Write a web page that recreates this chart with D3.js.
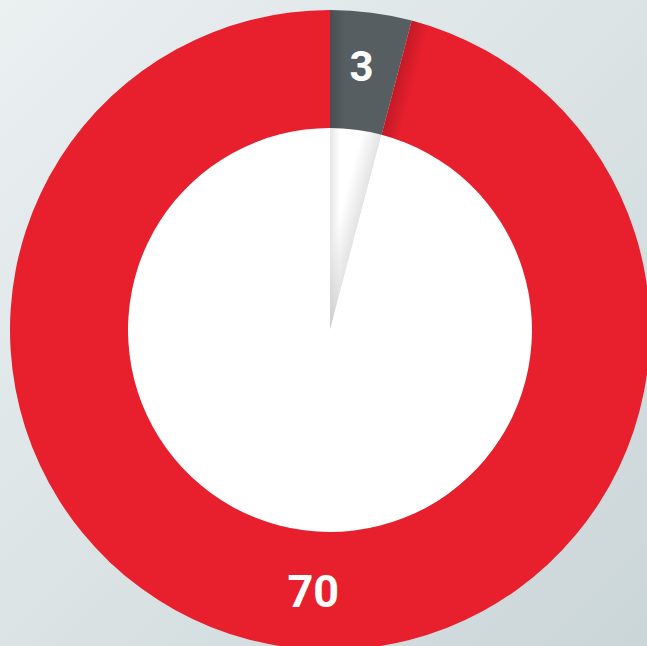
<!DOCTYPE html>
<html>
<head>
<meta charset="utf-8">
<script src="https://cdn.jsdelivr.net/npm/d3@7"></script>
<style>
  html, body { margin: 0; padding: 0; overflow: hidden; }
  svg { display: block; }
</style>
</head>
<body>
<svg id="chart" width="647" height="646"></svg>
<script>
// Data
const labels = ["3", "70"];
const values = [3, 70];
const colors = ["#565e61", "#e81f2d"];

const width = 647, height = 646;
const cx = 330, cy = 330;
const outerR = 320, innerR = 202;

const svg = d3.select("#chart");
const defs = svg.append("defs");

// Background gradient
const bg = defs.append("linearGradient").attr("id", "bg")
    .attr("x1", "0%").attr("y1", "0%").attr("x2", "100%").attr("y2", "100%");
bg.append("stop").attr("offset", "0%").attr("stop-color", "#ebf0f1");
bg.append("stop").attr("offset", "100%").attr("stop-color", "#cbd6d8");
svg.append("rect").attr("width", width).attr("height", height).attr("fill", "url(#bg)");

// shadow gradients (left -> right)
function shadowGrad(id, a0, a1) {
    const g = defs.append("linearGradient").attr("id", id)
        .attr("x1", "0%").attr("y1", "0%").attr("x2", "100%").attr("y2", "0%");
    g.append("stop").attr("offset", "0%").attr("stop-color", "#000").attr("stop-opacity", a0);
    g.append("stop").attr("offset", "100%").attr("stop-color", "#000").attr("stop-opacity", a1);
}
shadowGrad("shLeft", 0.16, 0);   // dark at left edge, fading right
shadowGrad("shWedgeL", 0.1, 0);
shadowGrad("shRight", 0, 0.11);  // dark at right edge

const pie = d3.pie().sort(null).value(d => d)(values);
const arc = d3.arc().innerRadius(innerR).outerRadius(outerR);

const g = svg.append("g").attr("transform", `translate(${cx},${cy})`);

// white inner disc
g.append("circle").attr("r", innerR).attr("fill", "#fff");

g.selectAll("path.slice")
    .data(pie)
    .enter().append("path")
    .attr("class", "slice")
    .attr("d", arc)
    .attr("fill", (d, i) => colors[i]);

const small = pie[0];
const endDeg = small.endAngle * 180 / Math.PI;

// clip paths
defs.append("clipPath").attr("id", "wedgeClip").append("path")
    .attr("d", d3.arc().innerRadius(0).outerRadius(innerR)({startAngle: small.startAngle, endAngle: small.endAngle}));
defs.append("clipPath").attr("id", "smallClip").append("path")
    .attr("d", arc(small));
defs.append("clipPath").attr("id", "bigClip").append("path")
    .attr("d", arc(pie[1]));

// folded wedge shading inside the white disc
const wedge = g.append("g").attr("clip-path", "url(#wedgeClip)");
wedge.append("rect").attr("x", 0).attr("y", -innerR).attr("width", 10).attr("height", innerR)
    .attr("fill", "url(#shWedgeL)");
wedge.append("g").attr("transform", `rotate(${endDeg})`)
    .append("rect").attr("x", -20).attr("y", -innerR).attr("width", 20).attr("height", innerR)
    .attr("fill", "url(#shRight)");

// darker edge on grey slice
g.append("g").attr("clip-path", "url(#smallClip)")
    .append("rect").attr("x", 0).attr("y", -outerR).attr("width", 16).attr("height", outerR - innerR)
    .attr("fill", "url(#shLeft)");

// shadow cast on the red ring
g.append("g").attr("clip-path", "url(#bigClip)")
    .append("g").attr("transform", `rotate(${endDeg})`)
    .append("rect").attr("x", 0).attr("y", -outerR - 5).attr("width", 18).attr("height", outerR - innerR + 5)
    .attr("fill", "url(#shLeft)");

// labels
const labelShift = [-0.01, -0.065];
g.selectAll("text.lbl")
    .data(pie)
    .enter().append("text")
    .attr("class", "lbl")
    .attr("transform", (d, i) => {
        const a = (d.startAngle + d.endAngle) / 2 + labelShift[i];
        const r = i === 0 ? 266 : 262;
        return `translate(${Math.sin(a) * r},${-Math.cos(a) * r})`;
    })
    .attr("text-anchor", "middle")
    .attr("dy", "0.35em")
    .style("font-family", "Roboto, 'DejaVu Sans', sans-serif")
    .style("font-weight", "700")
    .style("font-size", (d, i) => i === 0 ? "42px" : "45px")
    .style("fill", "#fff")
    .text((d, i) => labels[i]);
</script>
</body>
</html>
